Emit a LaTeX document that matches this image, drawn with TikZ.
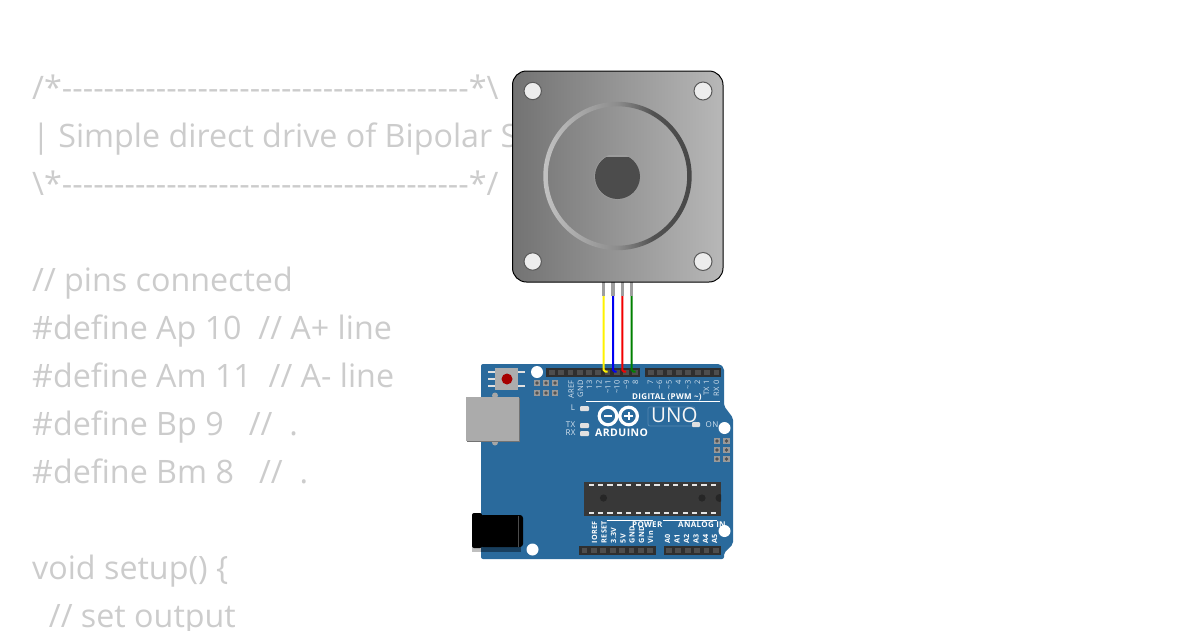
\documentclass[tikz,border=0pt]{standalone}
\usepackage{fontspec}
\newfontfamily\codefont{Open Sans}
\newfontfamily\brdfont[LetterSpace=4]{Open Sans}
\usepgflibrary{shadings}
\definecolor{codegrey}{HTML}{CCCCCC}
\definecolor{pcb}{HTML}{2A6A9C}
\definecolor{silk}{HTML}{D5E3EF}
\definecolor{hdr}{HTML}{2F2F2F}
\definecolor{pad}{HTML}{4E4E4E}
\pgfdeclarehorizontalshading{ringshade}{100bp}{color(0bp)=(black!34!white);color(18bp)=(black!18!white);color(50bp)=(black!45!white);color(62bp)=(black!68!white);color(100bp)=(black!80!white)}
\tikzset{
  code/.style={anchor=base west,inner sep=0pt,text=codegrey,font=\codefont\fontsize{32.25}{32.25}\selectfont},
  rule/.style={code,font=\codefont\fontsize{32.4}{32.4}\selectfont},
  vlab/.style={rotate=90,anchor=mid east,inner sep=0pt,text=silk,font=\brdfont\fontsize{7.5}{7.5}\selectfont},
  blab/.style={rotate=90,anchor=mid west,inner sep=0pt,text=white,font=\brdfont\bfseries\fontsize{7.2}{7.2}\selectfont},
  head/.style={anchor=base west,inner sep=0pt,text=white,font=\brdfont\bfseries\fontsize{8}{8}\selectfont},
  hlab/.style={inner sep=0pt,text=silk,font=\brdfont\fontsize{8}{8}\selectfont},
  led/.style={fill=black!12!white,rounded corners=1pt},
  mhole/.style={fill=black!7!white,draw=black!65!white,line width=1pt},
  bhole/.style={fill=white},
  motorpin/.style={draw=black!38!white,line width=3.2pt},
  wirel/.style={line width=2pt,rounded corners=1.5pt},
  icsppad/.style={fill=black!40!white},
  icspdot/.style={fill=black!68!white}
}
\begin{document}
\begin{tikzpicture}[x=1pt,y=-1pt]
\useasboundingbox (0,0) rectangle (1200,630);
% code text
\node[rule] (c1) at (32,99.7) {/*---------------------------------------*\textbackslash};
\node[code] (c2) at (32,147.7) {| Simple direct drive of Bipolar S};
\node[rule] (c3) at (32,195.7) {\textbackslash*---------------------------------------*/};
\node[code] (c4) at (32,291.7) {// pins connected};
\node[code] (c5) at (32,339.7) {\#define Ap 10\ \ // A+ line};
\node[code] (c6) at (32,387.7) {\#define Am 11\ \ // A- line};
\node[code] (c7) at (32,435.7) {\#define Bp 9\ \ \ //\ \ .};
\node[code] (c8) at (32,483.7) {\#define Bm 8\ \ \ //\ \ .};
\node[code] (c9) at (32,579.7) {void setup() \{};
\node[code] (c10) at (32,627.7) {\ \ // set output};
% board
\fill[pcb,rounded corners=2pt] (481,364) -- (720,364) -- (724,368) -- (724,406) -- (733,418) -- (733,544) -- (724,553) -- (724,559) -- (481,559) -- cycle;
% holes
\fill[bhole] (537,372) circle[radius=6pt];
\fill[bhole] (532.5,549.5) circle[radius=6pt];
\fill[bhole] (724.5,428) circle[radius=6pt];
% USB
\fill[black!35!white] (495,395.5) circle[radius=3pt];
\fill[black!35!white] (495,442.5) circle[radius=3pt];
\fill[black!55!white] (467,398) rectangle (520,442);
\fill[black!33!white] (466,397) rectangle (519,441);
% button
\foreach \py in {372,379,386} \fill[black!12!white] (488,\py-1.2) rectangle (496,\py+1.2);
\foreach \py in {372,386} \fill[black!12!white] (517,\py-1.2) rectangle (525,\py+1.2);
\fill[black!32!white] (495,368) rectangle (518,390);
\fill[red!65!black] (507,379) circle[radius=5.5pt];
% icsp
\foreach \px in {537,546,555} \foreach \py in {383,393} {
  \fill[icsppad] (\px-3.3,\py-3.3) rectangle (\px+3.3,\py+3.3);
  \fill[icspdot] (\px,\py) circle[radius=1.8pt];
}
\foreach \px in {717,726.5} \foreach \py in {441,450,459} {
  \fill[icsppad] (\px-3.3,\py-3.3) rectangle (\px+3.3,\py+3.3);
  \fill[icspdot] (\px,\py) circle[radius=1.8pt];
}
% headers
\fill[hdr] (546,368) rectangle (640,377);
\fill[hdr] (645,368) rectangle (721,377);
\fill[hdr] (579,546) rectangle (656,555);
\fill[hdr] (664,546) rectangle (721,555);
\foreach \n in {0,...,9} \fill[pad] (549+9.25*\n,370) rectangle +(5.8,5);
\foreach \n in {0,...,7} \fill[pad] (647.8+9.4*\n,370) rectangle +(5.8,5);
\foreach \n in {0,...,7} \fill[pad] (581.5+9.4*\n,548) rectangle +(5.8,5);
\foreach \n in {0,...,5} \fill[pad] (666+9.4*\n,548) rectangle +(5.8,5);
% top labels
\foreach \px/\t in {571.7/AREF,581/GND,590/13,599.5/12,608.5/\textasciitilde 11,617.5/\textasciitilde 10,627/\textasciitilde 9,636/8,651/7,660/\textasciitilde 6,669.5/\textasciitilde 5,679/4,688.5/\textasciitilde 3,698/2,707/TX\ 1,717/RX\ 0}
  \node[vlab] at (\px,380) {\t};
\draw[white,line width=.8pt] (586,401) -- (720,401);
\node[head] (dig) at (632,399) {DIGITAL (PWM \textasciitilde)};
% LEDs
\node[hlab] (ll) at (573,408) {L};
\node[hlab] (ltx) at (570.5,425) {TX};
\node[hlab] (lrx) at (570.5,433) {RX};
\fill[led] (580,406) rectangle (589,411);
\fill[led] (580,423) rectangle (589,428);
\fill[led] (580,431) rectangle (589,436);
\node[hlab] (lon) at (712,425) {ON};
% logo
\draw[white,line width=3.2pt] (608,416) circle[radius=8.8pt] (628.6,416) circle[radius=8.8pt];
\fill[white] (603.7,415.1) rectangle (612.3,417);
\fill[white] (624.3,415.1) rectangle (632.9,417);
\fill[white] (627.6,411.8) rectangle (629.6,420.3);
\node[anchor=base west,inner sep=0pt,text=white,font=\brdfont\bfseries\fontsize{10.5}{10.5}\selectfont] (ard) at (595,436.7) {ARDUINO};
\draw[pcb!80!white,line width=.7pt,rounded corners=2pt] (648,407) rectangle (695,426);
\node[anchor=base west,inner sep=0pt,text=black!4!white,font=\codefont\fontsize{20.5}{20.5}\selectfont] (uno) at (651,422.7) {UNO};
\fill[led] (692,422) rectangle (700,427);
% chip
\fill[black!78!white] (584,482) rectangle (721,516);
\foreach \n in {0,...,13} {
  \fill[black!10!white] (588.5+9.4*\n,483.5) rectangle +(5.2,2.4);
  \fill[black!10!white] (588.5+9.4*\n,512) rectangle +(5.2,2.4);
}
\fill[black!85!white] (603.5,498) circle[radius=3.6pt];
\fill[black!85!white] (702,498) circle[radius=3.6pt];
\begin{scope}
\clip (584,482) rectangle (721,516);
\fill[black!85!white] (719.5,498) circle[radius=4pt];
\end{scope}
% jack
\fill[black!40!pcb] (481,544) rectangle (521,552);
\fill[black!25!white] (472,546) rectangle (481,552);
\fill[black,rounded corners=2pt] (472,513) rectangle (482,548);
\fill[black,rounded corners=3pt] (480,515) rectangle (523,547);
\draw[black!70!white,line width=.5pt] (518.5,515.5) -- (518.5,546.5);
% bottom labels
\draw[white,line width=.7pt] (607,520.7) -- (653,520.7);
\draw[white,line width=.7pt] (663,520.7) -- (717,520.7);
\foreach \px/\t in {595/IOREF,604.5/RESET,614/3.3V,623.5/5V,632.5/GND,642/GND,651/Vin,668/A0,677.5/A1,687/A2,696.5/A3,706/A4,715/A5}
  \node[blab] at (\px,543.5) {\t};
\node[head] (pow) at (632,527.7) {POWER};
\node[head] (ana) at (678,527.7) {ANALOG IN};
\fill[bhole] (724.5,531) circle[radius=6pt];
% wires
\coordinate (s1) at (603.7,296); \coordinate (e1) at (607.5,371.5);
\coordinate (s2) at (613,296); \coordinate (e2) at (616.7,371.5);
\coordinate (s3) at (622.3,296); \coordinate (e3) at (626,371.5);
\coordinate (s4) at (631.7,296); \coordinate (e4) at (635.7,371.5);
\draw[wirel,yellow] (s1) -- (s1 |- e1) -- (e1);
\draw[wirel,blue!95!black] (s2) -- (s2 |- e2) -- (e2);
\draw[wirel,red!95!black] (s3) -- (s3 |- e3) -- (e3);
\draw[wirel,green!50!black] (s4) -- (s4 |- e4) -- (e4);
% motor pins
\coordinate (p1) at (603.7,280); \coordinate (p2) at (613,280); \coordinate (p3) at (622.3,280); \coordinate (p4) at (631.7,280);
\draw[motorpin] (p1) -- (s1);
\draw[motorpin] (p2) -- (s2);
\draw[motorpin] (p3) -- (s3);
\draw[motorpin] (p4) -- (s4);
% motor
\draw[black,line width=1pt,rounded corners=14pt,left color=black!55!white,right color=black!28!white] (512.5,71) rectangle (723,282);
\path[even odd rule,shading=ringshade] (617.5,176) circle[radius=74.2pt] (617.5,176) circle[radius=69.7pt];
\begin{scope}
\clip (590,155.8) rectangle (645,205);
\fill[black!38!white] (617.5,176.5) circle[radius=23.2pt];
\clip (590,157) rectangle (645,205);
\fill[black!70!white] (617.5,176.5) circle[radius=22.5pt];
\end{scope}
\draw[mhole] (532.7,91) circle[radius=8.7pt];
\draw[mhole] (703,91) circle[radius=9pt];
\draw[mhole] (532.7,261.5) circle[radius=8.7pt];
\draw[mhole] (703,261.5) circle[radius=9pt];
\end{tikzpicture}
\end{document}
